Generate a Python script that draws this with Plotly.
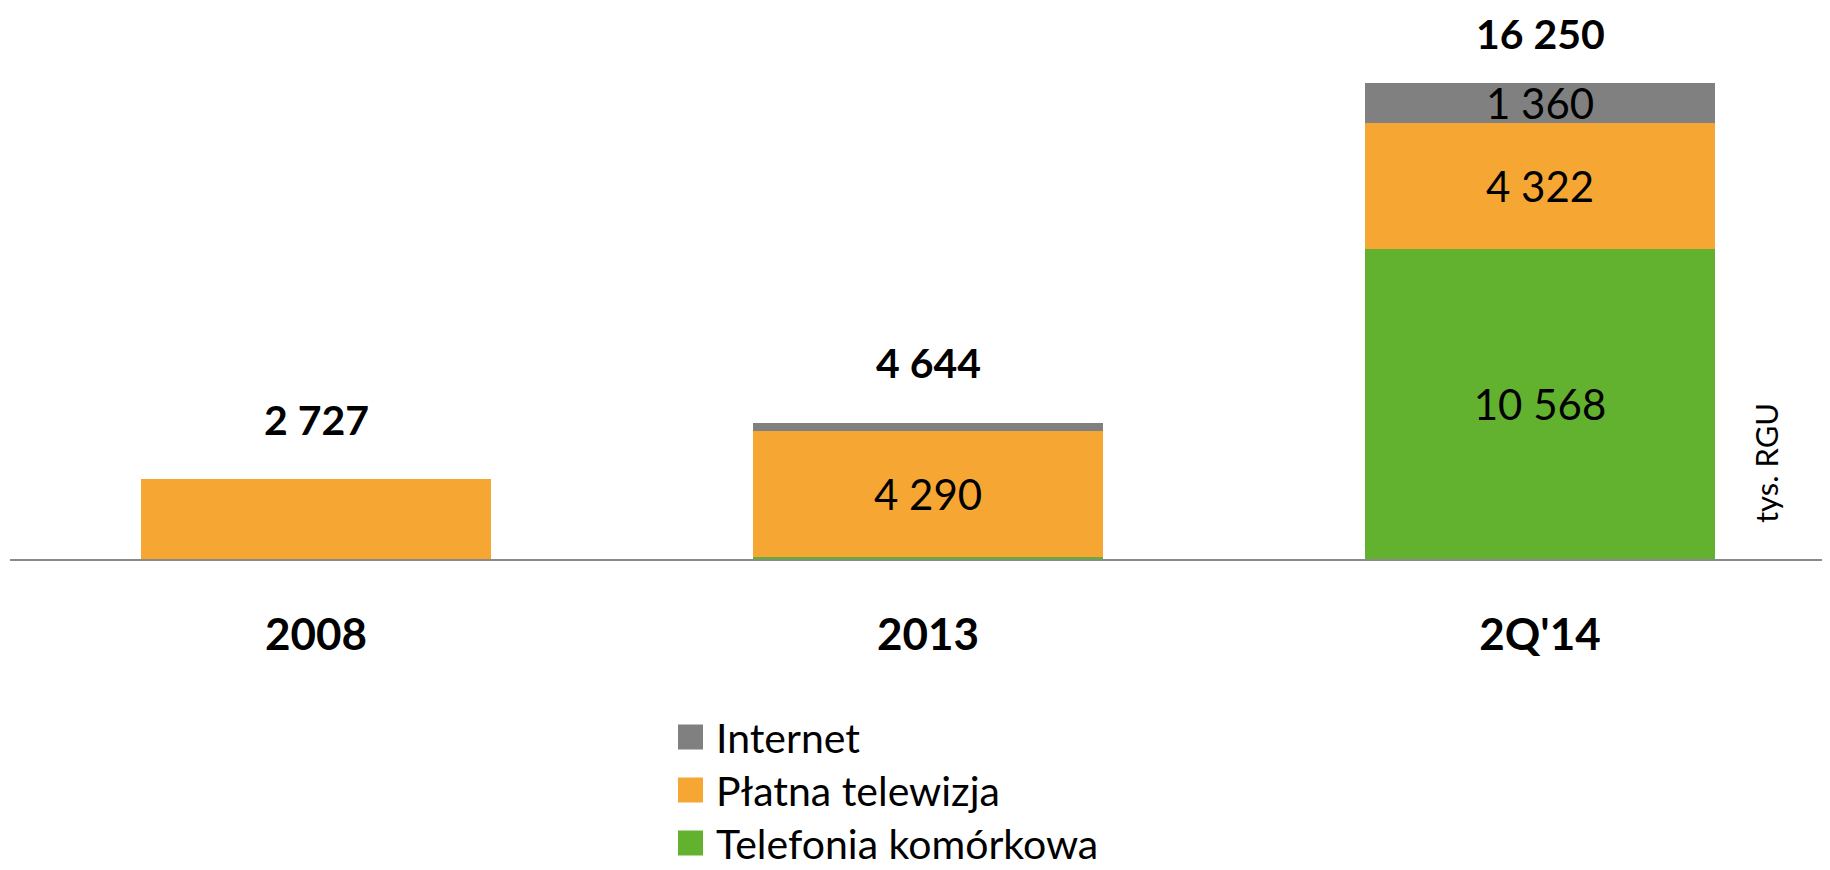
import plotly.graph_objects as go

# ---- data ----
categories = ["2008", "2013", "2Q'14"]
series_names = ["Telefonia komórkowa", "Płatna telewizja", "Internet"]
mobile = [0, 70, 10568]
pay_tv = [2727, 4290, 4322]
internet = [0, 284, 1360]
# which segments carry an inside label
mobile_labeled = [False, False, True]
pay_tv_labeled = [False, True, True]
internet_labeled = [False, False, True]
unit_label = "tys. RGU"

colors = {"Telefonia komórkowa": "#63B22F", "Płatna telewizja": "#F6A733", "Internet": "#808080"}
FONT = "Lato, 'Open Sans', sans-serif"


def fmt(v):
    return f"{v:,}".replace(",", " ")


OFF = 8  # page body margin
W, H = 1830 - OFF, 870 - OFF
ML, MR, MT, MB = 2, 0, 0, 311
PW, PH = W - ML - MR, H - MT - MB
PX_PER_UNIT = 476 / 16250
YMAX = PH / PX_PER_UNIT
CAT_PX = 612


def px_x(p):  # page pixel -> paper x
    return (p - OFF - ML) / PW


def px_y(p):  # page pixel -> paper y
    return (H - MB - (p - OFF)) / PH


fig = go.Figure()
for name, vals, lab in [
    (series_names[0], mobile, mobile_labeled),
    (series_names[1], pay_tv, pay_tv_labeled),
    (series_names[2], internet, internet_labeled),
]:
    fig.add_trace(go.Bar(
        x=list(range(len(categories))), y=vals, name=name,
        marker=dict(color=colors[name], line=dict(width=0)),
        text=[fmt(v) if l else "" for v, l in zip(vals, lab)],
        textposition="inside", insidetextanchor="middle",
        textangle=0, constraintext="none",
        textfont=dict(family=FONT, size=42, color="black"),
        showlegend=False, hoverinfo="skip",
    ))

totals = [a + b + c for a, b, c in zip(mobile, pay_tv, internet)]
for i, t in enumerate(totals):
    top_px = (H - MB) - t * PX_PER_UNIT
    center = max(top_px - 60, 33 - OFF)
    fig.add_annotation(
        x=i, y=t, xref="x", yref="y", yshift=top_px - center,
        text=f"<b>{fmt(t)}</b>", showarrow=False, yanchor="middle",
        font=dict(family=FONT, size=41, color="black"),
    )

# unit label
fig.add_annotation(
    x=px_x(1766), y=px_y(463), xref="paper", yref="paper",
    text=unit_label, textangle=-90, showarrow=False,
    xanchor="center", yanchor="middle",
    font=dict(family=FONT, size=31, color="black"),
)

# legend (manual, to get large square swatches)
legend_rows = [("Internet", 737), ("Płatna telewizja", 790), ("Telefonia komórkowa", 843)]
for name, cy in legend_rows:
    fig.add_shape(type="rect", xref="paper", yref="paper",
                  x0=px_x(678), x1=px_x(703), y0=px_y(cy + 12.5), y1=px_y(cy - 12.5),
                  fillcolor=colors[name], line=dict(width=0))
    fig.add_annotation(x=px_x(715), y=px_y(cy), xref="paper", yref="paper",
                       text=name, showarrow=False, xanchor="left", yanchor="middle",
                       borderpad=0,
                       font=dict(family=FONT, size=41, color="black"))

fig.update_layout(
    width=W, height=H,
    margin=dict(l=ML, r=MR, t=MT, b=MB, pad=0),
    barmode="stack", bargap=1 - 350 / CAT_PX,
    plot_bgcolor="white", paper_bgcolor="white",
    showlegend=False,
    xaxis=dict(
        range=[-0.5, -0.5 + PW / CAT_PX],
        tickmode="array", tickvals=list(range(len(categories))),
        ticktext=[f"<b>{c}</b>" for c in categories],
        tickfont=dict(family=FONT, size=44, color="black"),
        showline=True, linecolor="#898989", linewidth=2,
        showgrid=False, zeroline=False, ticks="", ticklabelstandoff=36,
    ),
    yaxis=dict(range=[0, YMAX], visible=False, showgrid=False, zeroline=False),
)

fig.write_html("out.html")
